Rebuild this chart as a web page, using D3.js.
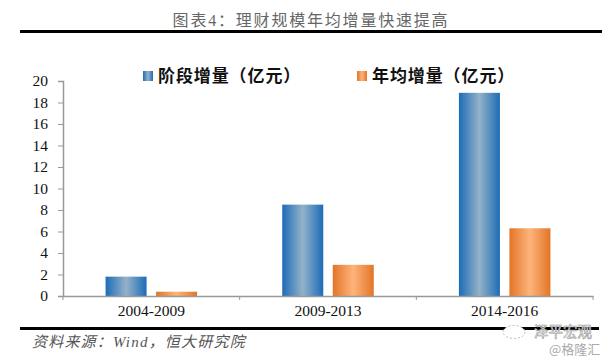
<!DOCTYPE html>
<html><head><meta charset="utf-8">
<script src="https://cdnjs.cloudflare.com/ajax/libs/d3/7.8.5/d3.min.js"></script>
<style>html,body{margin:0;padding:0;background:#fff}svg{display:block}
text{font-family:"Liberation Serif","Noto Sans CJK SC",serif}</style>
</head><body><div id="c"></div>
<script>
const categories = ["2004-2009","2009-2013","2014-2016"];
const seriesNames = ["阶段增量\uFF08亿元\uFF09","年均增量\uFF08亿元\uFF09"];
const stageValues = [1.8,8.5,18.9];
const annualValues = [0.4,2.9,6.3];
const yTicks = [0,2,4,6,8,10,12,14,16,18,20];
const titleText = "图表4\uFF1A理财规模年均增量快速提高";
const sourceText = "资料来源\uFF1AWind\uFF0C恒大研究院";

const W=609,H=363;
const svg=d3.select("#c").append("svg").attr("width",W).attr("height",H);
const defs=svg.append("defs");
function grad(id,edge,mid){
  const g=defs.append("linearGradient").attr("id",id).attr("x1",0).attr("x2",1).attr("y1",0).attr("y2",0);
  g.append("stop").attr("offset","0%").attr("stop-color",edge);
  g.append("stop").attr("offset","50%").attr("stop-color",mid);
  g.append("stop").attr("offset","100%").attr("stop-color",edge);
}
grad("gb","#1c6cb8","#94b2c8");
grad("go","#e37526","#fdb47c");

const x=d3.scaleBand().domain(categories).range([63,593]);
const inner=d3.scaleBand().domain([0,1]).range([0,x.bandwidth()]).paddingInner(0.188).paddingOuter(0.843);
const y=d3.scaleLinear().domain([0,20]).range([296,81]);

// title + rules
svg.append("text").attr("x",311).attr("y",26).attr("text-anchor","middle")
  .attr("font-size",16).attr("letter-spacing",1.8).attr("fill","#666").text(titleText);
svg.append("rect").attr("x",20).attr("y",30).attr("width",582).attr("height",3).attr("fill","#000");
svg.append("rect").attr("x",20).attr("y",327).attr("width",579).attr("height",3).attr("fill","#000");

// bars
[[stageValues,"gb"],[annualValues,"go"]].forEach(([vals,id],k)=>{
  svg.append("g").selectAll("rect").data(vals).join("rect")
    .attr("x",(d,i)=>x(categories[i])+inner(k))
    .attr("width",inner.bandwidth())
    .attr("y",d=>y(d))
    .attr("height",d=>y(0)-y(d))
    .attr("fill",`url(#${id})`);
});

// axes
const gy=svg.append("g").attr("transform","translate(63,0)")
  .call(d3.axisLeft(y).tickValues(yTicks).tickSize(5).tickPadding(10));
const gx=svg.append("g").attr("transform","translate(0,296)")
  .call(d3.axisBottom(x).tickSize(0).tickPadding(9));
gx.selectAll(".tick").select("line").remove();
gx.append("g").selectAll("line").data(d3.range(categories.length+1)).join("line")
  .attr("x1",i=>63+i*x.bandwidth()).attr("x2",i=>63+i*x.bandwidth())
  .attr("y1",0).attr("y2",4).attr("stroke","#999");
[gy,gx].forEach(g=>{
  g.selectAll(".domain").attr("stroke","#999").attr("stroke-width",1.5);
  g.selectAll("line").attr("stroke","#999");
  g.selectAll("text").attr("fill","#111").attr("font-size",15.5)
   .style("font-family",'"Liberation Serif",serif');
});

// legend
const lg=[{sx:143,tx:158,id:"gb"},{sx:357,tx:372,id:"go"}];
lg.forEach((l,i)=>{
  svg.append("rect").attr("x",l.sx).attr("y",71).attr("width",10).attr("height",10).attr("fill",`url(#${l.id})`);
  svg.append("text").attr("x",l.tx).attr("y",82).attr("font-size",17).attr("font-weight",700)
    .attr("letter-spacing",0.9).attr("fill","#111").text(seriesNames[i]);
});

// source
svg.append("text").attr("x",32).attr("y",347).attr("font-size",15).attr("font-style","italic")
  .attr("letter-spacing",1.2).attr("fill","#555").text(sourceText);

// watermark
svg.append("ellipse").attr("cx",514).attr("cy",332).attr("rx",11).attr("ry",6.5)
  .attr("fill","#fff").attr("stroke","#bbb").attr("stroke-dasharray","2 2");
svg.append("text").attr("x",534).attr("y",337).attr("font-size",14.5).attr("fill","#fff")
  .attr("stroke","#999").attr("stroke-width",.6).style("font-family",'"Noto Sans CJK SC"').text("泽平宏观");
svg.append("text").attr("x",549).attr("y",354).attr("font-size",13).attr("fill","#aaa")
  .style("font-family",'"Noto Sans CJK SC"').text("@格隆汇");
</script></body></html>
